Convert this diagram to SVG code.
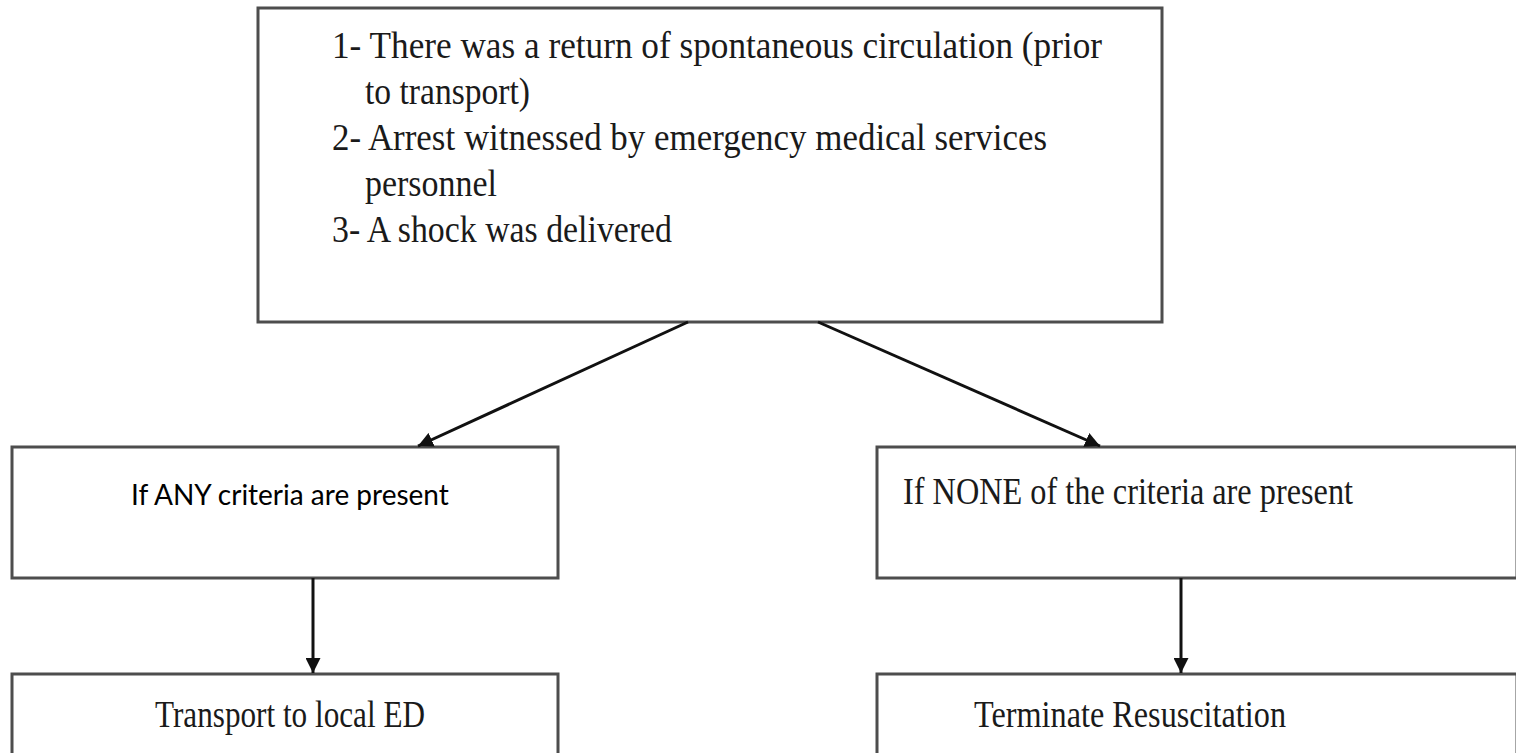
<svg xmlns="http://www.w3.org/2000/svg" width="1516" height="753" viewBox="0 0 1516 753">
<style>
.box{fill:#fff;stroke:#4d4d4d;stroke-width:3}
.t{font-family:"Liberation Serif","Times New Roman",serif;font-size:37px;fill:#1a1a1a}
.c{font-family:Lato,"Open Sans",sans-serif;font-size:28px;fill:#000}
.ln{stroke:#111;stroke-width:3;fill:none}
</style>
<defs>
<marker id="ah" viewBox="0 0 10 10" refX="10" refY="5" markerWidth="5" markerHeight="5" markerUnits="strokeWidth" orient="auto">
<path d="M0,0 L10,5 L0,10 z" fill="#111"/>
</marker>
</defs>
<rect width="1516" height="753" fill="#fff"/>
<g id="criteria">
<rect class="box" x="258" y="8" width="904" height="314"/>
<text class="t" x="332" y="58" textLength="770" lengthAdjust="spacingAndGlyphs">1- There was a return of spontaneous circulation (prior</text>
<text class="t" x="365" y="104" textLength="165" lengthAdjust="spacingAndGlyphs">to transport)</text>
<text class="t" x="332" y="150" textLength="715" lengthAdjust="spacingAndGlyphs">2- Arrest witnessed by emergency medical services</text>
<text class="t" x="365" y="196" textLength="132" lengthAdjust="spacingAndGlyphs">personnel</text>
<text class="t" x="332" y="242" textLength="340" lengthAdjust="spacingAndGlyphs">3- A shock was delivered</text>
</g>
<g id="any">
<rect class="box" x="12" y="447" width="546" height="131"/>
<text class="c" x="131" y="505">If ANY criteria are present</text>
</g>
<g id="none">
<rect class="box" x="877" y="447" width="640" height="131"/>
<text class="t" x="903" y="504" textLength="450" lengthAdjust="spacingAndGlyphs">If NONE of the criteria are present</text>
</g>
<g id="transport">
<rect class="box" x="12" y="674" width="546" height="90"/>
<text class="t" x="155" y="727" textLength="270" lengthAdjust="spacingAndGlyphs">Transport to local ED</text>
</g>
<g id="terminate">
<rect class="box" x="877" y="674" width="640" height="90"/>
<text class="t" x="974" y="727" textLength="312" lengthAdjust="spacingAndGlyphs">Terminate Resuscitation</text>
</g>
<g id="connectors">
<line class="ln" x1="688" y1="322" x2="418" y2="446" marker-end="url(#ah)"/>
<line class="ln" x1="818" y1="322" x2="1100" y2="446" marker-end="url(#ah)"/>
<line class="ln" x1="313" y1="578" x2="313" y2="673" marker-end="url(#ah)"/>
<line class="ln" x1="1181" y1="578" x2="1181" y2="673" marker-end="url(#ah)"/>
</g>
</svg>
